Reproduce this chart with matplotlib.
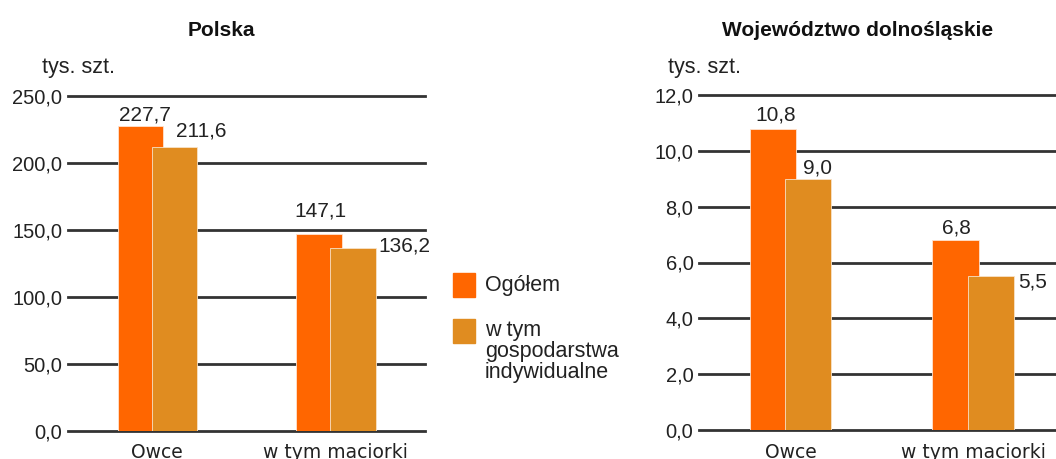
import matplotlib
matplotlib.use("Agg")
import matplotlib.pyplot as plt
from matplotlib.patches import Rectangle
import numpy as np

plt.rcParams['font.family'] = ['Liberation Sans', 'DejaVu Sans']

categories = ["Owce", "w tym maciorki"]
series_names = ["Ogółem", "w tym\ngospodarstwa\nindywidualne"]
polska_total = [227.7, 147.1]
polska_indiv = [211.6, 136.2]
dolno_total = [10.8, 6.8]
dolno_indiv = [9.0, 5.5]
polska_ticks = [0, 50, 100, 150, 200, 250]
dolno_ticks = [0, 2, 4, 6, 8, 10, 12]
unit_label = "tys. szt."
titles = ["Polska", "Województwo dolnośląskie"]

c_total = "#FF6600"
c_indiv = "#E08C20"
grid_c = "#333333"
txt_c = "#222222"

fig = plt.figure(figsize=(10.56, 4.59), dpi=100)

def fmt(v, d=1):
    return f"{v:.{d}f}".replace(".", ",")

def draw(ax, total, indiv, ticks, ymax, offs_total, offs_indiv):
    x = np.arange(len(categories))
    w = 0.255
    ax.set_xlim(-0.5, 1.5)
    ax.set_ylim(0, ymax)
    for t in ticks:
        ax.axhline(t, color=grid_c, lw=2, zorder=1, clip_on=False)
    ax.bar(x - 0.095, total, w, color=c_total, zorder=2, edgecolor="#FFE3CF", linewidth=0.6)
    ax.bar(x + 0.097, indiv, w, color=c_indiv, zorder=3, edgecolor="#F8E2C8", linewidth=0.6)
    for i in range(len(x)):
        for xx, v, (dx, dy, ha, va) in ((x[i] - 0.095, total[i], offs_total[i]),
                                         (x[i] + 0.097, indiv[i], offs_indiv[i])):
            ax.annotate(fmt(v), (xx, v), xytext=(dx, dy), textcoords="offset pixels",
                        ha=ha, va=va, fontsize=15, color=txt_c, zorder=5)
    ax.set_yticks(ticks)
    ax.set_yticklabels([fmt(t) for t in ticks], fontsize=14.5, color=txt_c)
    ax.set_xticks(x)
    ax.set_xticklabels(categories, fontsize=13.5, color=txt_c, family="DejaVu Sans")
    ax.tick_params(axis="y", length=0, pad=4)
    ax.tick_params(axis="x", length=0, pad=9)
    for s in ax.spines.values():
        s.set_visible(False)

ax1 = fig.add_axes([68/1056, 28/459, 357/1056, 335/459])
draw(ax1, polska_total, polska_indiv, polska_ticks, 250,
     [(5, 5, "center", "baseline"), (2, 17, "center", "baseline")],
     [(27, 11, "center", "baseline"), (25, 2, "left", "center")])
ax2 = fig.add_axes([699/1056, 29/459, 365.5/1056, 335/459])
draw(ax2, dolno_total, dolno_indiv, dolno_ticks, 12,
     [(3, 8, "center", "baseline"), (1, 7, "center", "baseline")],
     [(9, 5, "center", "baseline"), (27, -6, "left", "center")])

# unit labels
fig.text(42/1056, 1 - 68/459, unit_label, fontsize=15.5, color=txt_c, va="center", ha="left")
fig.text(668/1056, 1 - 68/459, unit_label, fontsize=15.5, color=txt_c, va="center", ha="left")

# titles
fig.text(221/1056, 1 - 30/459, titles[0], fontsize=15, fontweight="bold", ha="center", va="center",
         color="#111111")
fig.text(858/1056, 1 - 30/459, titles[1], fontsize=15, fontweight="bold", ha="center", va="center",
         color="#111111")

# legend
sq_tops = [273, 319]
for i, (name, col) in enumerate(zip(series_names, [c_total, c_indiv])):
    y0 = sq_tops[i]
    fig.patches.append(Rectangle((453/1056, 1 - (y0 + 24)/459), 22/1056, 24/459,
                                 transform=fig.transFigure, color=col))
    if i == 0:
        fig.text(485/1056, 1 - (y0 + 12)/459, name, fontsize=15.5, color=txt_c,
                 va="center", ha="left")
    else:
        fig.text(485/1056, 1 - (y0 + 1)/459, name, fontsize=15.5, color=txt_c,
                 va="top", ha="left", linespacing=1.0)

fig.savefig("out.png", dpi=100)
